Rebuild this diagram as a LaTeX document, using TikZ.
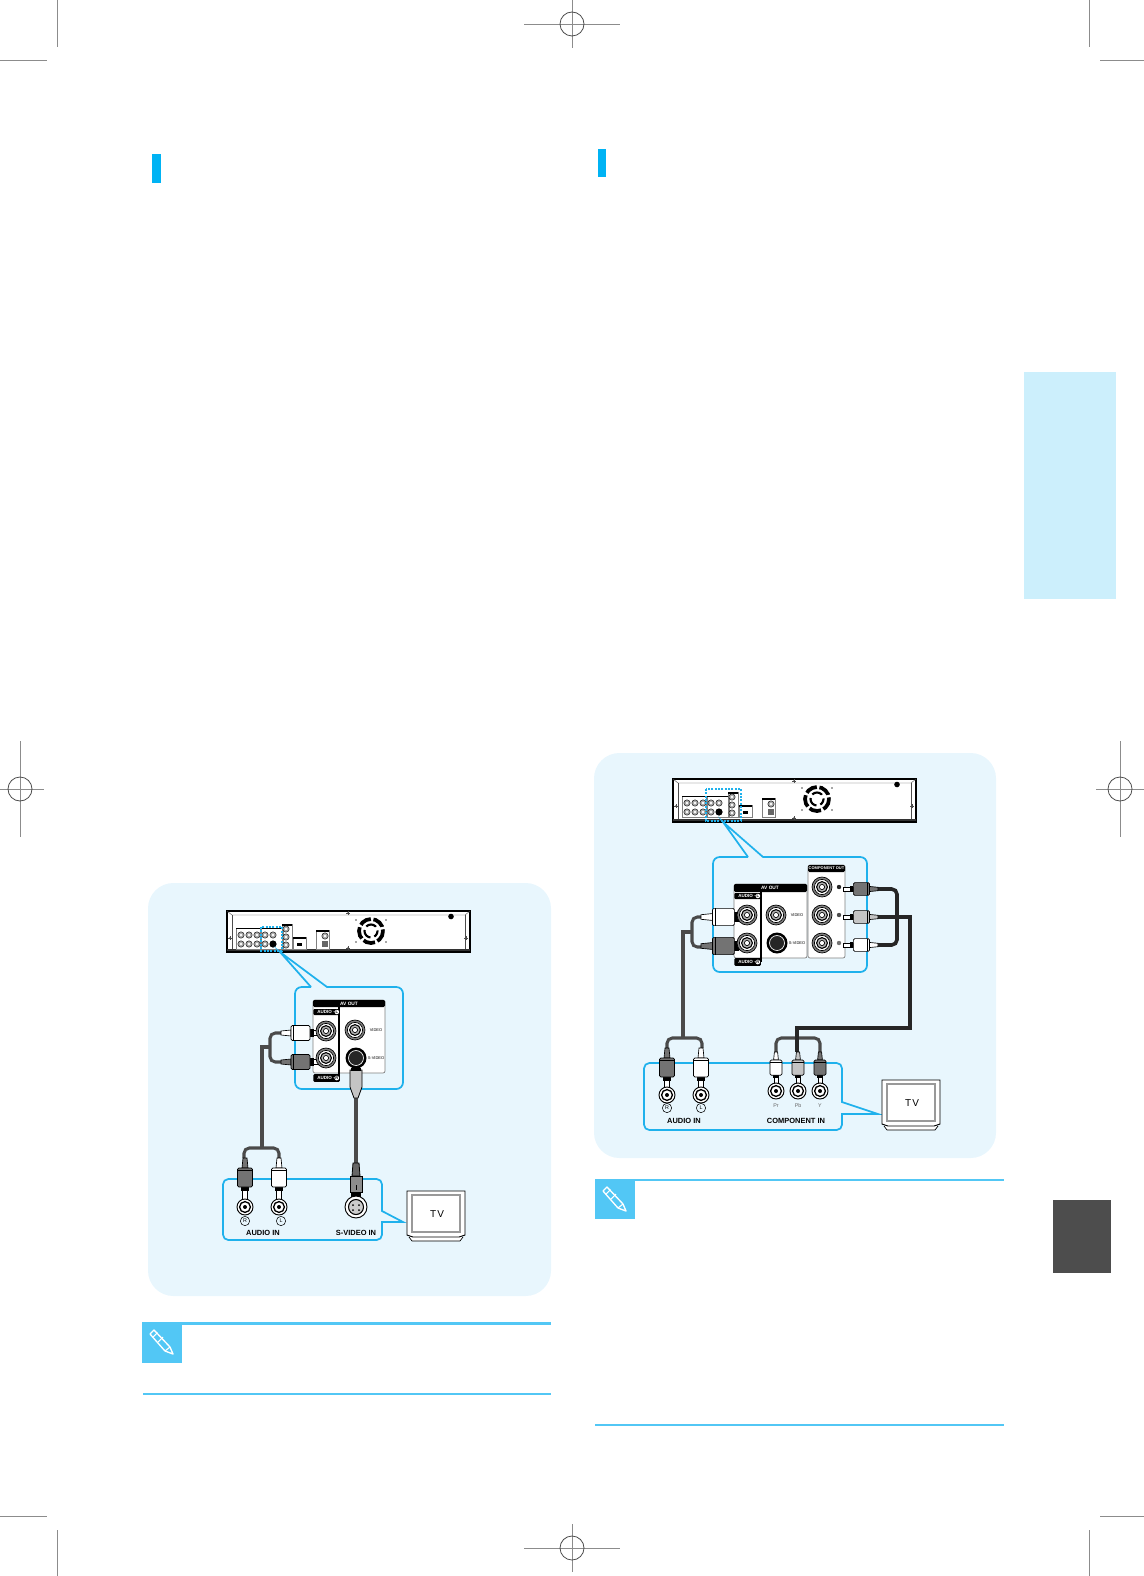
\documentclass[tikz,border=0pt]{standalone}
\usepackage{fontspec}
\setmainfont{Liberation Sans}
\usetikzlibrary{positioning}
\definecolor{panelbg}{HTML}{E8F6FD}
\definecolor{linkblue}{HTML}{1FB1EC}
\definecolor{noteblue}{HTML}{52C7F5}
\definecolor{barblue}{HTML}{00B3F4}
\definecolor{tabblue}{HTML}{CCEFFC}
\definecolor{tabdark}{HTML}{4D4D4D}
\definecolor{cablegray}{HTML}{4A4A4A}
\definecolor{cableblack}{HTML}{262626}
\definecolor{plugdark}{HTML}{737373}
\definecolor{pluglight}{HTML}{C4C4C4}
\definecolor{markgray}{HTML}{8C8C8C}
\tikzset{
    callout/.style={draw=linkblue,line width=1.3pt},
    cable/.style={draw=cablegray,line width=2.3pt,rounded corners=4pt},
    blackcable/.style={draw=cableblack,line width=2.7pt,rounded corners=4pt},
    cropmark/.style={draw=markgray,line width=0.7pt},
    caption/.style={font=\fontsize{5.6}{6}\selectfont\bfseries,inner sep=0pt},
    tinytext/.style={font=\fontsize{3.6}{4}\selectfont\bfseries,inner sep=0pt},
    porttext/.style={font=\fontsize{3}{4}\selectfont,inner sep=0pt},
    pintext/.style={font=\fontsize{4}{5}\selectfont,text=black!60,inner sep=0pt},
    tvtext/.style={font=\fontsize{7.5}{9}\selectfont\addfontfeature{LetterSpace=12},inner sep=0pt},
    barlabel/.style={fill=black,text=white,font=\fontsize{3.4}{4}\selectfont\bfseries,inner sep=0.8pt,rounded corners=0.8pt,anchor=west},
    barmark/.style={circle,fill=white,text=black,font=\fontsize{3}{3}\selectfont\bfseries,inner sep=0.2pt,minimum size=3.4pt},
    circled/.style={circle,draw,line width=0.4pt,font=\fontsize{4}{4}\selectfont,inner sep=0pt,minimum size=7pt},
    pics/rcaplug/.style={code={
        \draw[line width=0.5pt,fill=#1] (-2,0) -- (2,0) -- (3,10) -- (-3,10) -- cycle;
        \draw[line width=0.5pt,fill=white] (-2.5,29) rectangle (2.5,41);
        \fill (-4,29) rectangle (4,33);
        \draw[line width=0.5pt,fill=#1,rounded corners=1pt] (-7.5,10) rectangle (7.5,29);
        \draw[line width=0.7pt] (-7.5,12.5) -- (7.5,12.5);
    }},
    pics/bigjack/.style={code={
        \draw[line width=0.5pt,fill=black!50] (0,0) circle (10);
        \draw[line width=0.5pt,fill=white] (0,0) circle (7.6);
        \draw[line width=0.8pt,fill=black!30] (0,0) circle (5.4);
        \draw[line width=0.5pt,fill=white] (0,0) circle (2.6);
    }},
    pics/injack/.style={code={
        \draw[line width=0.7pt,fill=white] (0,0) circle (8);
        \draw[line width=1pt,fill=white] (0,0) circle (5.4);
        \fill (0,0) circle (2);
    }},
    pics/svideoout/.style={code={
        \fill (0,0) circle (10.5);
        \draw[line width=0.5pt,draw=white,fill=black!85] (0,0) circle (7.5);
    }},
    pics/svideoin/.style={code={
        \draw[line width=0.7pt,fill=white] (0,0) circle (11);
        \draw[line width=0.8pt,fill=black!20] (0,0) circle (7.5);
        \fill (-3,-2) circle (1) (3,-2) circle (1) (-3,3) circle (1) (3,3) circle (1);
    }},
    pics/portdot/.style={code={
        \draw[line width=0.3pt,fill=black!35] (0,0) circle (3.2);
        \fill[white] (0,0) circle (1.3);
    }},
    pics/screwdot/.style={code={
        \fill[black!70] (0,0) circle (1);
        \draw[black!70,line width=0.3pt] (-2,0) -- (2,0) (0,-2) -- (0,2);
    }},
    pics/rearpanel/.style={code={
        \draw[line width=0.9pt,fill=white] (0,0) rectangle (243,#1);
        \draw[line width=0.3pt,draw=black!70] (0,0) -- (5,4) -- (238,4) -- (243,0);
        \draw[line width=0.3pt,draw=black!70] (5,4) -- (5,#1-3) (238,4) -- (238,#1-3);
        \draw[line width=0.8pt,draw=black!80] (0,#1-2) -- (243,#1-2);
        \draw[line width=0.3pt,draw=black!50] (9,17) rectangle (33,38);
        \draw[line width=0.3pt,draw=black!50] (34,17) rectangle (56,38);
        \fill (9,16.5) rectangle (56,18);
        \pic at (14,24) {portdot};
        \pic at (22,24) {portdot};
        \pic at (14,33) {portdot};
        \pic at (22,33) {portdot};
        \pic at (30,24) {portdot};
        \pic at (30,33) {portdot};
        \pic at (38,24) {portdot};
        \pic at (38,33) {portdot};
        \pic at (46,24) {portdot};
        \fill (46,33) circle (3.6);
        \draw[line width=0.3pt,draw=black!50] (55,13) rectangle (65,38);
        \fill (55,13) rectangle (65,14.5);
        \pic at (59,18) {portdot};
        \pic at (59,26) {portdot};
        \pic at (59,34) {portdot};
        \draw[line width=0.3pt,draw=black!50] (66,26) rectangle (79,38);
        \fill (66,26) rectangle (79,27.5);
        \fill (70,32) rectangle (75,35);
        \draw[line width=0.3pt,draw=black!50] (89,19) rectangle (102,38);
        \fill (89,19) rectangle (102,20.5);
        \pic at (98,25) {portdot};
        \fill[black!60] (95,30) rectangle (101,36);
        \draw[line width=2.8pt,dash pattern=on 9pt off 2pt] (144,20) circle (12);
        \draw[line width=1.6pt,dash pattern=on 8pt off 3pt,dash phase=3pt] (144,20) circle (6.5);
        \fill (224,5.5) circle (2.8);
        \pic at (121,2) {screwdot};
        \pic at (121,#1-4) {screwdot};
        \pic at (3,27) {screwdot};
        \pic at (239,27) {screwdot};
        \fill[black!70] (129,9) circle (0.9) (159,9) circle (0.9) (129,31) circle (0.9) (159,31) circle (0.9);
    }},
    pics/tvset/.style={code={
        \draw[line width=0.5pt,fill=white] (2,46) -- (5,50) -- (53,50) -- (56,46);
        \draw[line width=0.7pt,fill=white] (0,0) -- (58,0) -- (58,44) -- (52,46) -- (6,46) -- (0,44) -- cycle;
        \draw[line width=1.5pt,draw=black!40] (5,4) rectangle (53,41);
    }},
    pics/regmarktop/.style={code={
        \draw[cropmark] (-48,0) -- (48,0) (0,-24) -- (0,24);
        \draw[line width=0.6pt,draw=black!70] (0,0) circle (12);
    }},
    pics/regmarkside/.style={code={
        \draw[cropmark] (-24,0) -- (24,0) (0,-48) -- (0,48);
        \draw[line width=0.6pt,draw=black!70] (0,0) circle (12);
    }},
}
\begin{document}
\begin{tikzpicture}[x=0.75pt,y=-0.75pt]
    \useasboundingbox (0,0) rectangle (1144,1576);

    % page marks
    \draw[cropmark] (57,0) -- ++(0,47) (0,60) -- ++(47,0);
    \draw[cropmark] (1089,0) -- ++(0,47) (1100,60) -- ++(44,0);
    \draw[cropmark] (57,1576) -- ++(0,-46) (0,1516) -- ++(47,0);
    \draw[cropmark] (1089,1576) -- ++(0,-46) (1100,1516) -- ++(44,0);
    \pic at (572,24) {regmarktop};
    \pic at (572,1548) {regmarktop};
    \pic at (20,789) {regmarkside};
    \pic at (1120,789) {regmarkside};

    % page furniture
    \fill[barblue] (152,154) rectangle (161,183);
    \fill[barblue] (598,149) rectangle (606,177);
    \fill[tabblue] (1024,372) rectangle (1116,599);
    \fill[tabdark] (1053,1200) rectangle (1111,1273);
    \fill[panelbg,rounded corners=19pt] (148,883) rectangle (551,1296);
    \fill[panelbg,rounded corners=19pt] (594,753) rectangle (996,1158);

    % left: S-video hookup
    \pic at (227,911) {rearpanel=41};
    \draw[draw=linkblue,line width=1pt,dash pattern=on 1.5pt off 1pt] (261,927) rectangle (282,951);
    \draw[callout] (311,987) -- (280,952) -- (327,987) [rounded corners=5pt] -- (403,987) -- (403,1089) -- (295,1089) -- (295,987) -- (311,987);
    \draw[line width=0.5pt,draw=black!50,fill=white,rounded corners=1.5pt] (313,1000) rectangle (385,1073);
    \fill[rounded corners=1pt] (313,1000) rectangle (385,1007);
    \draw[line width=0.8pt] (339,1007) -- (339,1076);
    \node[text=white,tinytext] (lavout) at (349,1003.5) {AV OUT};
    \node[barlabel,minimum width=20pt,minimum height=4.5pt] (laudiol) at (313,1012) {AUDIO –};
    \node[barmark,left=0.6pt of laudiol.east] (laudiolmark) {L};
    \node[barlabel,minimum width=20pt,minimum height=5.7pt] (laudior) at (313,1078) {AUDIO –};
    \node[barmark,left=0.6pt of laudior.east] (laudiormark) {R};
    \node[porttext] (lvideo) at (376,1030) {VIDEO};
    \node[porttext] (lsvideo) at (376,1058) {S-VIDEO};

    \draw[cable] (281,1033) -- (270,1033) -- (270,1062) -- (281,1062);
    \draw[cable,rounded corners=0pt] (270,1047) -- (262,1047) -- (262,1148);
    \draw[cable] (244,1158) -- (244,1148) -- (279,1148) -- (279,1158);
    \draw[cable] (356,1098) -- (356,1163);
    \pic[rotate=90] at (281,1033) {rcaplug=white};
    \pic[rotate=90] at (281,1062) {rcaplug=plugdark};
    \pic at (326,1031) {bigjack};
    \pic at (326,1058) {bigjack};
    \pic at (355,1030) {bigjack};
    \pic at (356,1058) {svideoout};
    \draw[line width=0.6pt,fill=pluglight] (350,1070) -- (362,1070) -- (362,1087) -- (358,1098) -- (354,1098) -- (350,1087) -- cycle;
    \fill (351,1068) rectangle (361,1071);

    \draw[callout] (223,1179) [rounded corners=4pt] -- (382,1179) [sharp corners] -- (382,1211) -- (403,1222) -- (382,1222) [rounded corners=4pt] -- (382,1240) -- (223,1240) -- cycle;
    \pic at (245,1158) {rcaplug=plugdark};
    \pic at (279,1158) {rcaplug=white};
    \pic at (245,1207) {injack};
    \pic at (279,1207) {injack};
    \draw[line width=0.6pt,fill=black!60] (353,1163) -- (359,1163) -- (360,1176) -- (352,1176) -- cycle;
    \draw[line width=0.6pt,fill=black!45] (350,1176) rectangle (362,1192);
    \fill (351,1192) rectangle (361,1197);
    \fill (355.6,1185) rectangle (356.4,1190);
    \pic at (356,1207) {svideoin};
    \node[circled] (lr) at (245,1221) {R};
    \node[circled] (ll) at (281,1221) {L};
    \node[caption] (laudioin) at (263,1233) {AUDIO IN};
    \node[caption] (lsvideoin) at (356,1233) {S-VIDEO IN};
    \pic at (407,1191) {tvset};
    \node[tvtext] (ltv) at (437,1214) {TV};

    % right: component hookup
    \pic at (673,779) {rearpanel=43};
    \draw[draw=linkblue,line width=1pt,dash pattern=on 1.5pt off 1pt] (706,789) rectangle (741,821);
    \draw[callout] (748,857) -- (723,822) -- (763,857) [rounded corners=5pt] -- (867,857) -- (867,972) -- (713,972) -- (713,857) -- (748,857);
    \draw[line width=0.5pt,draw=black!50,fill=white,rounded corners=1.5pt] (734,884) rectangle (807,958);
    \fill[rounded corners=1pt] (734,884) rectangle (807,892);
    \draw[line width=0.8pt] (761,892) -- (761,962);
    \node[text=white,tinytext] (ravout) at (770,888) {AV OUT};
    \node[barlabel,minimum width=20pt,minimum height=4.5pt] (raudiol) at (734,896) {AUDIO –};
    \node[barmark,left=0.6pt of raudiol.east] (raudiolmark) {L};
    \node[barlabel,minimum width=20pt,minimum height=5.7pt] (raudior) at (734,962) {AUDIO –};
    \node[barmark,left=0.6pt of raudior.east] (raudiormark) {R};
    \node[porttext] (rvideo) at (797,915) {VIDEO};
    \node[porttext] (rsvideo) at (797,943) {S-VIDEO};
    \draw[line width=0.5pt,draw=black!50,fill=white,rounded corners=1.5pt] (808,865) rectangle (845,958);
    \fill[rounded corners=1pt] (808,865) rectangle (845,872);
    \node[text=white,tinytext,font=\fontsize{3}{4}\selectfont\bfseries] (rcompout) at (826.5,868.5) {COMPONENT OUT};
    \fill[black!85] (839,887) circle (2.2);
    \fill[black!70] (839,915) circle (2.2);
    \fill[black!55] (839,943) circle (2.2);

    \draw[cable] (701,917) -- (692,917) -- (692,947) -- (701,947);
    \draw[cable,rounded corners=0pt] (692,932) -- (683,932) -- (683,1038);
    \draw[cable] (667,1048) -- (667,1038) -- (702,1038) -- (702,1048);
    \draw[blackcable] (878,889) -- (897,889) -- (897,945) -- (878,945);
    \draw[cable] (776,1052) -- (776,1038) -- (820,1038) -- (820,1052);
    \draw[blackcable,rounded corners=0pt] (878,917) -- (910,917) -- (910,1028) -- (797,1028) -- (797,1052);
    \pic[rotate=90,scale=1.15] at (701,917) {rcaplug=white};
    \pic[rotate=90,scale=1.15] at (701,946) {rcaplug=plugdark};
    \pic[rotate=-90,scale=0.85] at (878,889) {rcaplug=plugdark};
    \pic[rotate=-90,scale=0.85] at (878,917) {rcaplug=pluglight};
    \pic[rotate=-90,scale=0.85] at (878,945) {rcaplug=white};
    \pic at (747,915) {bigjack};
    \pic at (747,943) {bigjack};
    \pic at (776,915) {bigjack};
    \pic at (777,943) {svideoout};
    \pic at (822,887) {bigjack};
    \pic at (822,915) {bigjack};
    \pic at (822,943) {bigjack};

    \draw[callout] (644,1063) [rounded corners=4pt] -- (842,1063) [sharp corners] -- (842,1102) -- (878,1114) -- (842,1114) [rounded corners=4pt] -- (842,1130) -- (644,1130) -- cycle;
    \pic at (667,1048) {rcaplug=plugdark};
    \pic at (701,1048) {rcaplug=white};
    \pic[scale=0.8] at (776,1052) {rcaplug=white};
    \pic[scale=0.8] at (798,1052) {rcaplug=pluglight};
    \pic[scale=0.8] at (820,1052) {rcaplug=plugdark};
    \pic at (667,1095) {injack};
    \pic at (701,1095) {injack};
    \pic at (776,1091) {injack};
    \pic at (798,1091) {injack};
    \pic at (820,1091) {injack};
    \node[circled] (rr) at (667,1108) {R};
    \node[circled] (rl) at (701,1108) {L};
    \node[pintext] (rpr) at (776,1106) {Pr};
    \node[pintext] (rpb) at (798,1106) {Pb};
    \node[pintext] (rpy) at (820,1106) {Y};
    \node[caption] (raudioin) at (684,1121) {AUDIO IN};
    \node[caption] (rcompin) at (796,1121) {COMPONENT IN};
    \pic at (882,1080) {tvset};
    \node[tvtext] (rtv) at (912,1103) {TV};

    % note strips
    \fill[noteblue] (142,1322) rectangle (551,1325);
    \fill[noteblue] (143,1393) rectangle (551,1395);
    \fill[noteblue] (142,1322) rectangle (182,1363);
    \fill[noteblue] (595,1179) rectangle (1004,1180.5);
    \fill[noteblue] (595,1424) rectangle (1004,1426);
    \fill[noteblue] (595,1179) rectangle (635,1219);
    \begin{scope}[shift={(162,1342)}]
        \draw[white,line width=1pt,line join=round] (-12,-8) -- (-8,-12) -- (8,5) -- (11,12) -- (3,9) -- cycle;
        \draw[white,line width=0.8pt] (-9,-5) -- (-4.5,-9.5) (-4,0) -- (1,-5) (3,9) -- (8,5);
    \end{scope}
    \begin{scope}[shift={(615,1199)}]
        \draw[white,line width=1pt,line join=round] (-12,-8) -- (-8,-12) -- (8,5) -- (11,12) -- (3,9) -- cycle;
        \draw[white,line width=0.8pt] (-9,-5) -- (-4.5,-9.5) (-4,0) -- (1,-5) (3,9) -- (8,5);
    \end{scope}
\end{tikzpicture}
\end{document}
